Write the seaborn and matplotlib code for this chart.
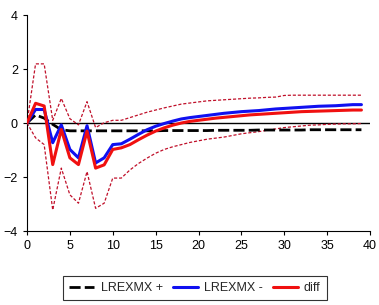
import numpy as np
import pandas as pd
import matplotlib
matplotlib.use("Agg")
import matplotlib.pyplot as plt
from matplotlib import font_manager
import seaborn as sns

periods = list(range(40))
pos = [0, 0.30, 0.18, -0.05, -0.25, -0.29, -0.29, -0.29, -0.29, -0.29,
       -0.29, -0.29, -0.29, -0.29, -0.29, -0.29, -0.28, -0.28, -0.28, -0.28,
       -0.28, -0.28, -0.27, -0.27, -0.27, -0.27, -0.27, -0.26, -0.26, -0.26,
       -0.26, -0.26, -0.26, -0.25, -0.25, -0.25, -0.25, -0.25, -0.25, -0.25]
neg = [0, 0.50, 0.50, -0.73, -0.07, -0.98, -1.29, -0.10, -1.48, -1.29,
       -0.80, -0.77, -0.60, -0.42, -0.25, -0.12, -0.02, 0.07, 0.15, 0.20,
       0.24, 0.28, 0.32, 0.36, 0.39, 0.42, 0.44, 0.46, 0.49, 0.52,
       0.54, 0.56, 0.58, 0.60, 0.62, 0.63, 0.64, 0.66, 0.68, 0.68]
diff = [0, 0.73, 0.63, -1.54, -0.24, -1.29, -1.54, -0.30, -1.67, -1.55,
        -0.98, -0.92, -0.80, -0.62, -0.45, -0.30, -0.18, -0.08, 0.00, 0.06,
        0.10, 0.14, 0.18, 0.21, 0.24, 0.27, 0.30, 0.32, 0.34, 0.36,
        0.38, 0.40, 0.42, 0.43, 0.44, 0.45, 0.46, 0.47, 0.48, 0.48]
upper = [0, 2.19, 2.19, 0.10, 0.91, 0.16, -0.07, 0.79, -0.17, 0.01,
         0.10, 0.10, 0.20, 0.30, 0.40, 0.48, 0.56, 0.63, 0.70, 0.74,
         0.78, 0.82, 0.84, 0.86, 0.88, 0.90, 0.92, 0.93, 0.95, 0.96,
         1.02, 1.03, 1.03, 1.03, 1.03, 1.03, 1.03, 1.03, 1.03, 1.03]
lower = [0, -0.55, -0.80, -3.22, -1.67, -2.66, -2.97, -1.80, -3.16, -2.97,
         -2.04, -2.04, -1.74, -1.50, -1.30, -1.12, -0.98, -0.88, -0.80, -0.72,
         -0.66, -0.60, -0.56, -0.52, -0.46, -0.40, -0.36, -0.32, -0.27, -0.22,
         -0.17, -0.14, -0.11, -0.08, -0.07, -0.05, -0.04, -0.03, -0.03, -0.02]
labels = ["LREXMX +", "LREXMX -", "diff"]
xticks = [0, 5, 10, 15, 20, 25, 30, 35, 40]
yticks = [-4, -2, 0, 2, 4]

sns.set_style("ticks")
names = {f.name for f in font_manager.fontManager.ttflist}
fam = 'Liberation Sans Narrow' if 'Liberation Sans Narrow' in names else 'Liberation Sans'
plt.rcParams['font.family'] = [fam, 'DejaVu Sans']
fs = 10.5 if fam == 'Liberation Sans Narrow' else 9

fig = plt.figure(figsize=(3.79, 3.05), dpi=100)
ax = fig.add_axes([27/379, 1 - 231/305, 343/379, 216/305])

df = pd.DataFrame({"t": periods, "pos": pos, "neg": neg, "diff": diff,
                   "upper": upper, "lower": lower})

ax.axhline(0, color="black", lw=1.0, zorder=1)
sns.lineplot(data=df, x="t", y="upper", ax=ax, color="#c0102a", lw=0.9,
             linestyle=(0, (2.5, 1.5)), zorder=2)
sns.lineplot(data=df, x="t", y="lower", ax=ax, color="#c0102a", lw=0.9,
             linestyle=(0, (2.5, 1.5)), zorder=2)
sns.lineplot(data=df, x="t", y="pos", ax=ax, color="black", lw=2.0,
             linestyle=(0, (4, 1.5)), label=labels[0], zorder=3)
sns.lineplot(data=df, x="t", y="neg", ax=ax, color="#1010f0", lw=2.2,
             label=labels[1], zorder=4)
sns.lineplot(data=df, x="t", y="diff", ax=ax, color="#f01010", lw=2.2,
             label=labels[2], zorder=5)

ax.set_xlim(0, 40)
ax.set_ylim(-4, 4)
ax.set_xticks(xticks)
ax.set_yticks(yticks)
ax.set_xlabel("")
ax.set_ylabel("")
ax.tick_params(axis="both", labelsize=fs, length=3, width=0.8, colors="black")
for s in ["top", "right"]:
    ax.spines[s].set_visible(False)
for s in ["left", "bottom"]:
    ax.spines[s].set_color("black")
    ax.spines[s].set_linewidth(0.8)

handles, labs = ax.get_legend_handles_labels()
ax.get_legend().remove()
leg = fig.legend(handles, labs, loc="center", bbox_to_anchor=(195/379, 1 - 288/305),
                 ncol=3, fontsize=fs, frameon=True, fancybox=False,
                 edgecolor="black", handlelength=2.0, columnspacing=0.8,
                 handletextpad=0.5, borderpad=0.5)
leg.get_frame().set_linewidth(0.8)

fig.savefig("out.png", dpi=100)
